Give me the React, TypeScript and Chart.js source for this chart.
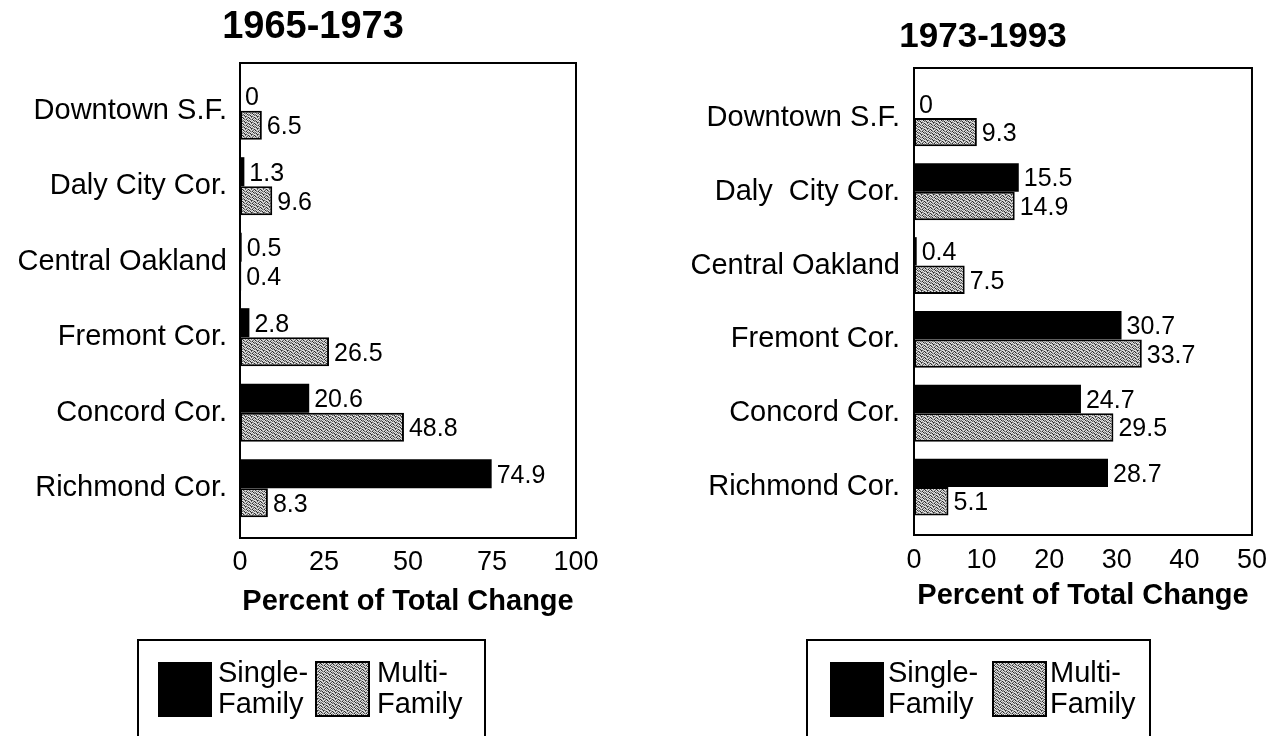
import React, { useEffect, useRef } from "react";
import { Chart, registerables } from "chart.js";

Chart.register(...registerables);

const FONT = "'Liberation Sans', Arial, Helvetica, sans-serif";

const categoriesA = ["Downtown S.F.", "Daly City Cor.", "Central Oakland", "Fremont Cor.", "Concord Cor.", "Richmond Cor."];
const categoriesB = ["Downtown S.F.", "Daly  City Cor.", "Central Oakland", "Fremont Cor.", "Concord Cor.", "Richmond Cor."];

const singleA = [0, 1.3, 0.5, 2.8, 20.6, 74.9];
const multiA = [6.5, 9.6, 0.4, 26.5, 48.8, 8.3];
const singleB = [0, 15.5, 0.4, 30.7, 24.7, 28.7];
const multiB = [9.3, 14.9, 7.5, 33.7, 29.5, 5.1];

const ticksA = [0, 25, 50, 75, 100];
const ticksB = [0, 10, 20, 30, 40, 50];

const titleA = "1965-1973";
const titleB = "1973-1993";
const axisTitle = "Percent of Total Change";
const seriesNames = ["Single-Family", "Multi-Family"];
const legendLines = [["Single-", "Family"], ["Multi-", "Family"]];

type PanelCfg = {
  left: number;
  width: number;
  padTop: number;
  padRight: number;
  yWidth: number;
  yPad: number;
  xHeight: number;
  xPad: number;
  titlePadBottom: number;
  frameTopExt: number;
  frameBottomExt: number;
  title: string;
  titleX: number;
  titleY: number;
  titleSize: number;
  legend: { boxL: number; boxR: number; top: number; sq1: number; text1: number; sq2: number; text2: number };
};

function makePattern(): CanvasPattern | string {
  const tile = document.createElement("canvas");
  tile.width = 6;
  tile.height = 6;
  const c = tile.getContext("2d");
  if (!c) return "#a0a0a0";
  const rows = ["031201", "102130", "210013", "013102", "120310", "301021"];
  const shades = ["#e6e6e6", "#a8a8a8", "#686868", "#2a2a2a"];
  for (let y = 0; y < 6; y++) {
    for (let x = 0; x < 6; x++) {
      c.fillStyle = shades[Number(rows[y][x])];
      c.fillRect(x, y, 1, 1);
    }
  }
  const p = c.createPattern(tile, "repeat");
  return p || "#a0a0a0";
}

const decoPlugin = {
  id: "deco",
  afterDatasetsDraw(chart: any) {
    const ctx = chart.ctx as CanvasRenderingContext2D;
    ctx.save();
    ctx.fillStyle = "#000";
    ctx.font = `25px ${FONT}`;
    ctx.textBaseline = "middle";
    ctx.textAlign = "left";
    chart.data.datasets.forEach((ds: any, i: number) => {
      const meta = chart.getDatasetMeta(i);
      meta.data.forEach((el: any, j: number) => {
        const v = ds.data[j];
        ctx.fillText(String(v), el.x + 5, el.y + 2);
      });
    });
    ctx.restore();
  },
  afterDraw(chart: any, _args: any, opts: any) {
    const cfg: PanelCfg = opts.cfg;
    const pattern = opts.pattern;
    const ctx = chart.ctx as CanvasRenderingContext2D;
    const a = chart.chartArea;
    ctx.save();
    ctx.strokeStyle = "#000";
    ctx.lineWidth = 2;
    ctx.strokeRect(a.left, a.top - cfg.frameTopExt, a.right - a.left, a.bottom - a.top + cfg.frameTopExt + cfg.frameBottomExt);
    ctx.fillStyle = "#000";
    ctx.font = `bold ${cfg.titleSize}px ${FONT}`;
    ctx.textAlign = "center";
    ctx.textBaseline = "middle";
    ctx.fillText(cfg.title, cfg.titleX, cfg.titleY);
    const L = cfg.legend;
    ctx.lineWidth = 2;
    ctx.strokeRect(L.boxL, L.top, L.boxR - L.boxL, 120);
    ctx.fillStyle = "#000";
    ctx.fillRect(L.sq1, 662, 54, 55);
    ctx.fillStyle = pattern;
    ctx.fillRect(L.sq2, 661, 55, 56);
    ctx.strokeStyle = "#000";
    ctx.strokeRect(L.sq2 + 1, 662, 53, 54);
    ctx.fillStyle = "#000";
    ctx.font = `29px ${FONT}`;
    ctx.textAlign = "left";
    ctx.fillText(legendLines[0][0], L.text1, 674);
    ctx.fillText(legendLines[0][1], L.text1, 705);
    ctx.fillText(legendLines[1][0], L.text2, 674);
    ctx.fillText(legendLines[1][1], L.text2, 705);
    ctx.restore();
  },
};

function Panel(props: { cfg: PanelCfg; labels: string[]; single: number[]; multi: number[]; ticks: number[] }) {
  const ref = useRef<HTMLCanvasElement | null>(null);
  const { cfg, labels, single, multi, ticks } = props;
  useEffect(() => {
    if (!ref.current) return;
    const pattern = makePattern();
    const chart = new Chart(ref.current, {
      type: "bar",
      data: {
        labels,
        datasets: [
          {
            label: seriesNames[0],
            data: single,
            backgroundColor: "#000",
            borderWidth: 0,
            categoryPercentage: 0.77,
            barPercentage: 1.0,
          },
          {
            label: seriesNames[1],
            data: multi,
            backgroundColor: pattern as any,
            borderColor: "#000",
            borderWidth: 2,
            borderSkipped: false,
            categoryPercentage: 0.77,
            barPercentage: 1.0,
          },
        ],
      },
      options: {
        indexAxis: "y",
        responsive: false,
        animation: false,
        events: [],
        layout: { padding: { top: cfg.padTop, right: cfg.padRight, left: 0, bottom: 0 } },
        plugins: {
          legend: { display: false },
          title: { display: false },
          tooltip: { enabled: false },
          deco: { cfg, pattern },
        } as any,
        scales: {
          x: {
            type: "linear",
            min: ticks[0],
            max: ticks[ticks.length - 1],
            grid: { display: false, drawTicks: false },
            border: { display: false },
            ticks: {
              stepSize: ticks[1] - ticks[0],
              color: "#000",
              padding: cfg.xPad,
              font: { family: FONT, size: 27 },
              maxRotation: 0,
              autoSkip: false,
            },
            title: {
              display: true,
              text: axisTitle,
              color: "#000",
              font: { family: FONT, size: 29, weight: "bold" },
              padding: { top: 0, bottom: cfg.titlePadBottom },
            },
            afterFit: (scale: any) => {
              scale.height = cfg.xHeight;
            },
          },
          y: {
            type: "category",
            grid: { display: false, drawTicks: false },
            border: { display: false },
            ticks: {
              color: "#000",
              padding: cfg.yPad,
              font: { family: FONT, size: 29 },
              autoSkip: false,
            },
            afterFit: (scale: any) => {
              scale.width = cfg.yWidth;
            },
          },
        },
      } as any,
      plugins: [decoPlugin as any],
    });
    return () => chart.destroy();
  }, []);
  return (
    <canvas
      ref={ref}
      width={cfg.width}
      height={736}
      style={{ position: "absolute", left: cfg.left, top: 0, width: cfg.width, height: 736 }}
    />
  );
}

const cfgA: PanelCfg = {
  left: 0,
  width: 640,
  padTop: 73,
  padRight: 64,
  yWidth: 240,
  yPad: 13,
  xHeight: 210,
  xPad: 20,
  titlePadBottom: 117,
  frameTopExt: 10,
  frameBottomExt: 12,
  title: titleA,
  titleX: 313,
  titleY: 28,
  titleSize: 38,
  legend: { boxL: 138, boxR: 485, top: 640, sq1: 158, text1: 218, sq2: 315, text2: 377 },
};

const cfgB: PanelCfg = {
  left: 640,
  width: 647,
  padTop: 81,
  padRight: 35,
  yWidth: 274,
  yPad: 14,
  xHeight: 212,
  xPad: 20,
  titlePadBottom: 123,
  frameTopExt: 13,
  frameBottomExt: 11,
  title: titleB,
  titleX: 343,
  titleY: 37,
  titleSize: 35,
  legend: { boxL: 167, boxR: 510, top: 640, sq1: 190, text1: 248, sq2: 352, text2: 410 },
};

export default function App() {
  return (
    <div style={{ position: "absolute", left: 0, top: 0, width: 1278, height: 736, background: "#fff", overflow: "hidden" }}>
      <Panel cfg={cfgA} labels={categoriesA} single={singleA} multi={multiA} ticks={ticksA} />
      <Panel cfg={cfgB} labels={categoriesB} single={singleB} multi={multiB} ticks={ticksB} />
    </div>
  );
}
